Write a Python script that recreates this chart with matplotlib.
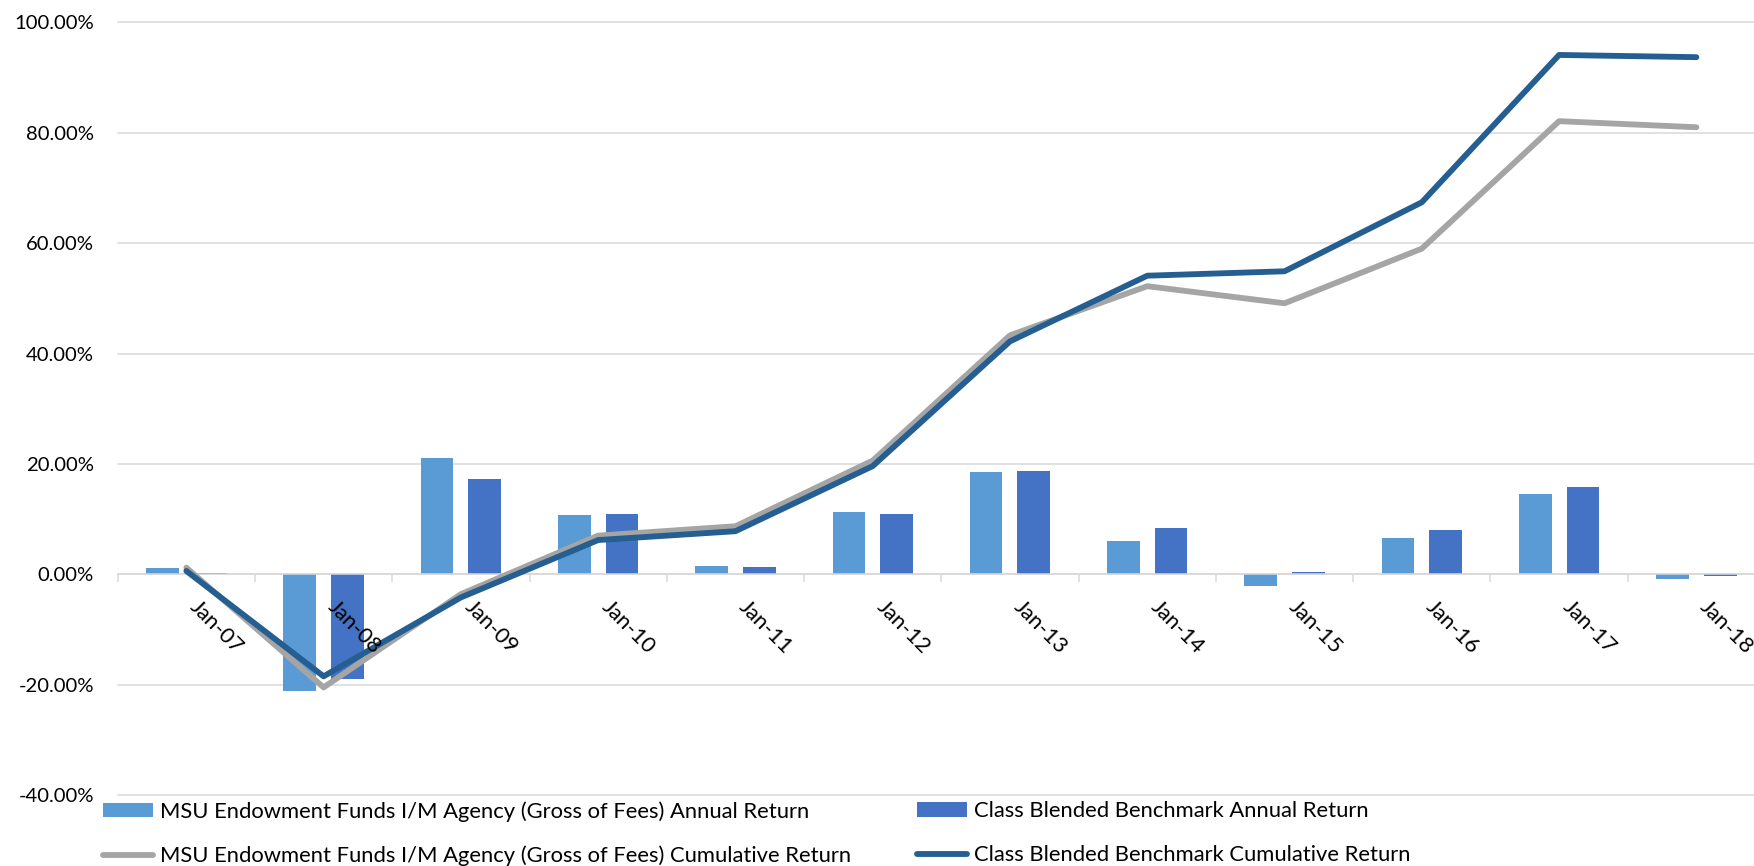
import matplotlib
matplotlib.use("Agg")
import matplotlib.pyplot as plt
import numpy as np
from matplotlib.ticker import FuncFormatter, FixedLocator
from matplotlib.patches import Patch
from matplotlib.lines import Line2D

plt.rcParams['font.family'] = ['Lato', 'DejaVu Sans']

categories = ["Jan-07", "Jan-08", "Jan-09", "Jan-10", "Jan-11", "Jan-12",
              "Jan-13", "Jan-14", "Jan-15", "Jan-16", "Jan-17", "Jan-18"]
msu_annual = [1.1, -21.2, 21.1, 10.7, 1.5, 11.2, 18.5, 6.1, -2.2, 6.5, 14.5, -0.8]
bench_annual = [0.3, -19.0, 17.3, 10.9, 1.3, 10.9, 18.7, 8.4, 0.4, 8.0, 15.9, -0.3]
msu_cum = [1.2, -20.5, -3.6, 7.0, 8.7, 20.6, 43.3, 52.2, 49.1, 59.0, 82.1, 81.0]
bench_cum = [0.6, -18.5, -4.2, 6.2, 7.8, 19.6, 42.2, 54.1, 54.9, 67.4, 94.1, 93.7]

series_labels = [
    "MSU Endowment Funds I/M Agency (Gross of Fees) Annual Return",
    "Class Blended Benchmark Annual Return",
    "MSU Endowment Funds I/M Agency (Gross of Fees) Cumulative Return",
    "Class Blended Benchmark Cumulative Return",
]
c_light = "#5B9BD5"
c_dark = "#4472C4"
c_gray = "#A5A5A5"
c_blue = "#255E91"
grid_c = "#D9D9D9"
fs_y = 14.6
fs = 15.8

W, H = 1754, 866
fig = plt.figure(figsize=(W / 100, H / 100), dpi=100)
ax = fig.add_axes([117.7 / W, (H - 795) / H, (1765 - 117.7) / W, (795 - 22.4) / H])

x = np.arange(len(categories))
bw = 0.238
off = 0.1736
ax.bar(x - off, msu_annual, bw, color=c_light, zorder=2)
ax.bar(x + off, bench_annual, bw, color=c_dark, zorder=2)
ax.plot(x, msu_cum, color=c_gray, lw=4.2, solid_capstyle='round', solid_joinstyle='round', zorder=3)
ax.plot(x, bench_cum, color=c_blue, lw=4.2, solid_capstyle='round', solid_joinstyle='round', zorder=4)

ax.set_xlim(-0.5, len(categories) - 0.5)
ax.set_ylim(-40, 100)
ax.set_yticks(np.arange(-40, 101, 20))
ax.yaxis.set_major_formatter(FuncFormatter(lambda v, p: f"{v:.2f}%"))
ax.grid(axis='y', color=grid_c, lw=1.1, zorder=0)
for gl in ax.get_ygridlines():
    gl.set_clip_on(False)
ax.tick_params(axis='y', length=0, pad=17, labelsize=fs_y, labelcolor='black')

for s in ['top', 'right', 'left']:
    ax.spines[s].set_visible(False)
ax.spines['bottom'].set_position(('data', 0))
ax.spines['bottom'].set_color(grid_c)
ax.spines['bottom'].set_linewidth(1.1)

ax.set_xticks(x)
ax.set_xticklabels(categories, rotation=-45, ha='left', va='top', fontsize=fs)
ax.tick_params(axis='x', which='major', length=0, pad=16)
ax.xaxis.set_minor_locator(FixedLocator(np.arange(-0.5, len(categories), 1.0)))
ax.tick_params(axis='x', which='minor', length=6, width=1.1, color=grid_c, direction='out')
ax.xaxis.set_zorder(5)

h_light = Patch(facecolor=c_light)
h_dark = Patch(facecolor=c_dark)
h_gray = Line2D([], [], color=c_gray, lw=4.2, solid_capstyle='round')
h_blue = Line2D([], [], color=c_blue, lw=4.2, solid_capstyle='round')

common = dict(frameon=False, fontsize=fs, loc='upper left', borderpad=0, borderaxespad=0,
              handlelength=2.3, handletextpad=0.28, labelspacing=1.1, handleheight=0.65)
leg1 = fig.legend([h_light, h_gray], [series_labels[0], series_labels[2]],
                  bbox_to_anchor=(103 / W, (H - 801) / H), **common)
leg2 = fig.legend([h_dark, h_blue], [series_labels[1], series_labels[3]],
                  bbox_to_anchor=(917 / W, (H - 801) / H), **common)

fig.savefig("out.png", dpi=100)
